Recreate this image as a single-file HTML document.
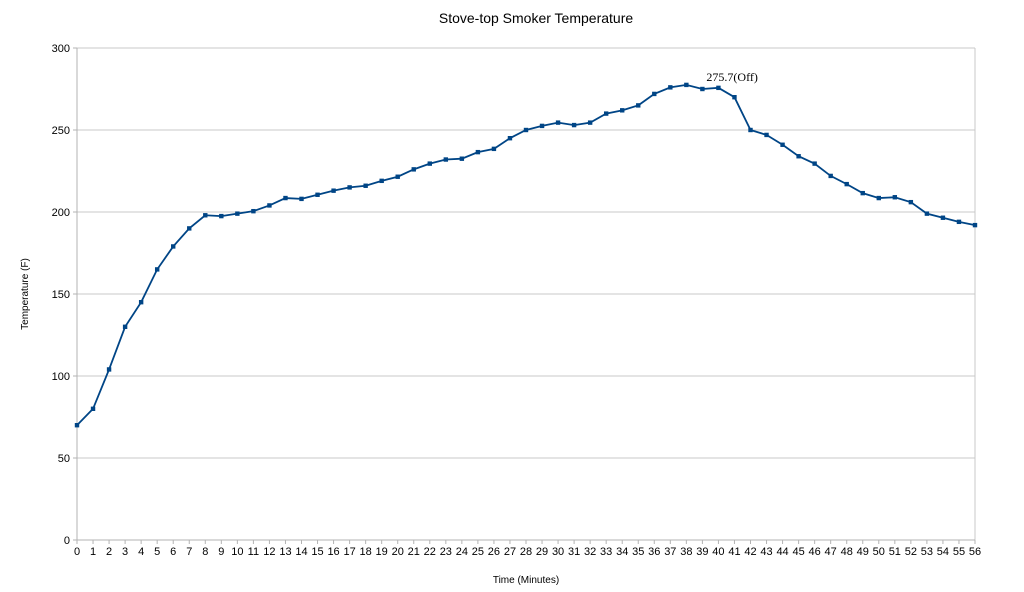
<!DOCTYPE html>
<html><head><meta charset="utf-8"><style>
body{margin:0;background:#fff;}
svg{display:block;font-family:"Liberation Sans",sans-serif;}
</style></head><body>
<svg id="chart" width="1024" height="592">
<text x="536" y="23" font-size="14" text-anchor="middle">Stove-top Smoker Temperature</text>
<text x="526" y="583" font-size="10" text-anchor="middle">Time (Minutes)</text>
<text transform="translate(28,294) rotate(-90)" font-size="10" text-anchor="middle">Temperature (F)</text>
<g id="grid"></g><g id="axes"></g><g id="series"></g>
</svg>
<script>
const minutes = Array.from({length:57},(_,i)=>i);
const temps = [70,80,104,130,145,165,179,190,198,197.5,199,200.5,204,208.5,208,210.5,213,215,216,219,221.5,226,229.5,232,232.5,236.5,238.5,245,250,252.5,254.5,253,254.5,260,262,265,272,276,277.5,275,275.7,270,250,247,241,234,229.5,222,217,211.5,208.5,209,206,199,196.5,194,192];
const yTicks = [0,50,100,150,200,250,300];
const annotationIndex = 40;
const annotationText = "275.7(Off)";

const L=77,R=975,T=48,B=540;
const xs=v=>L+(v-0)/(56-0)*(R-L);
const ys=v=>B-(v/300)*(B-T);
const NS="http://www.w3.org/2000/svg";
function mk(tag,attrs,parent){const e=document.createElementNS(NS,tag);for(const k in attrs)e.setAttribute(k,attrs[k]);parent.appendChild(e);return e;}
const grid=document.getElementById('grid'),axes=document.getElementById('axes'),series=document.getElementById('series');
yTicks.forEach(t=>{
  const y=ys(t);
  const g=mk('line',{x1:L,x2:R,y1:y,y2:y,stroke:'#c8c8c8','stroke-width':1},grid);
  
  
  const tl=mk('line',{x1:L-4,x2:L,y1:y,y2:y,stroke:'#b3b3b3'},axes);
  
  
  const lb=mk('text',{x:L-7,y:y+4,'font-size':11,'text-anchor':'end'},axes);
  lb.textContent=t;
  
  
});
const ax=mk('line',{x1:L,x2:L,y1:T,y2:B,stroke:'#b3b3b3'},axes);


const rx=mk('line',{x1:R,x2:R,y1:T,y2:B,stroke:'#c8c8c8'},axes);


const bx=mk('line',{x1:L,x2:R,y1:B,y2:B,stroke:'#b3b3b3'},axes);


minutes.forEach(m=>{
  const x=xs(m);
  const tl=mk('line',{x1:x,x2:x,y1:B,y2:B+4,stroke:'#b3b3b3'},axes);
  
  
  const lb=mk('text',{x:x,y:B+15,'font-size':11,'text-anchor':'middle'},axes);
  lb.textContent=m;
  
  
});
const pts=temps.map((v,i)=>xs(minutes[i])+','+ys(v)).join(' ');
const line=mk('polyline',{points:pts,fill:'none',stroke:'#004586','stroke-width':1.8},series);


temps.forEach((v,i)=>{
  const p=mk('rect',{x:xs(minutes[i])-2.2,y:ys(v)-2.2,width:4.4,height:4.4,fill:'#004586'},series);
  
  
});
const an=mk('text',{x:xs(annotationIndex)-12,y:ys(temps[annotationIndex])-7,'font-size':12,'text-anchor':'start','font-family':'"Liberation Serif",serif'},series);
an.textContent=annotationText;


</script>
</body></html>
